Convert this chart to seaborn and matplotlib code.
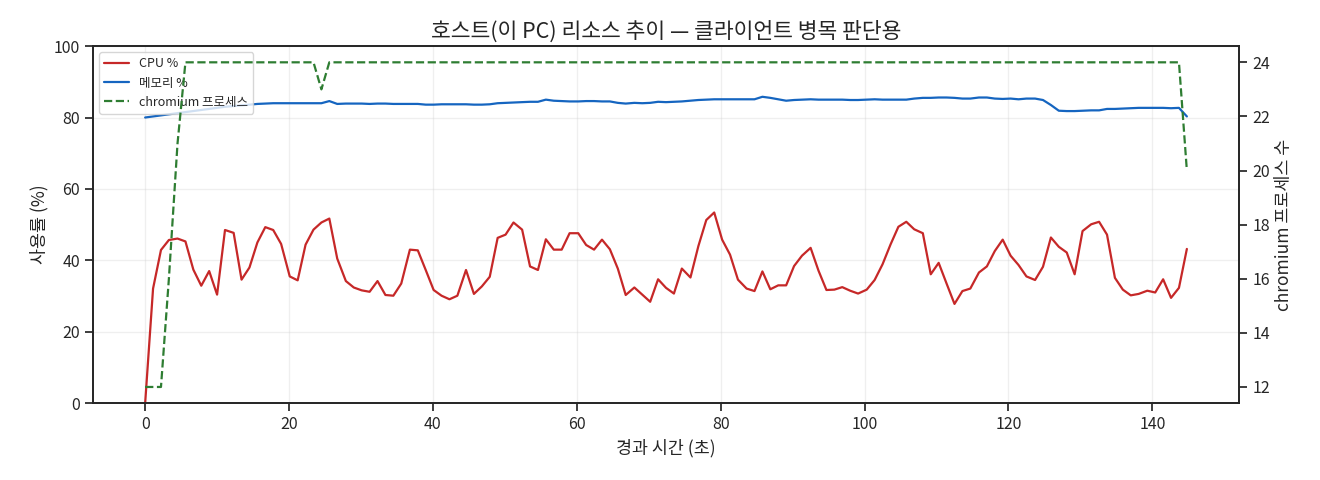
import seaborn as sns
import matplotlib.pyplot as plt
import pandas as pd

# elapsed seconds for each sample
elapsed_s = [
    0.0, 1.1, 2.2, 3.3, 4.5, 5.6, 6.7, 7.8, 8.9, 10.0,
    11.1, 12.3, 13.4, 14.5, 15.6, 16.7, 17.8, 18.9, 20.1, 21.2,
    22.3, 23.4, 24.5, 25.6, 26.7, 27.9, 29.0, 30.1, 31.2, 32.3,
    33.4, 34.5, 35.6, 36.8, 37.9, 39.0, 40.1, 41.2, 42.3, 43.4,
    44.6, 45.7, 46.8, 47.9, 49.0, 50.1, 51.2, 52.4, 53.5, 54.6,
    55.7, 56.8, 57.9, 59.0, 60.2, 61.3, 62.4, 63.5, 64.6, 65.7,
    66.8, 68.0, 69.1, 70.2, 71.3, 72.4, 73.5, 74.6, 75.8, 76.9,
    78.0, 79.1, 80.2, 81.3, 82.4, 83.6, 84.7, 85.8, 86.9, 88.0,
    89.1, 90.2, 91.3, 92.5, 93.6, 94.7, 95.8, 96.9, 98.0, 99.1,
    100.3, 101.4, 102.5, 103.6, 104.7, 105.8, 106.9, 108.1, 109.2, 110.3,
    111.4, 112.5, 113.6, 114.7, 115.9, 117.0, 118.1, 119.2, 120.3, 121.4,
    122.5, 123.7, 124.8, 125.9, 127.0, 128.1, 129.2, 130.3, 131.5, 132.6,
    133.7, 134.8, 135.9, 137.0, 138.1, 139.3, 140.4, 141.5, 142.6, 143.7,
    144.8,
]

cpu_pct = [
    0.0, 32.1, 42.9, 45.7, 46.1, 45.3, 37.4, 32.9, 37.0, 30.4,
    48.5, 47.7, 34.6, 38.0, 45.0, 49.3, 48.5, 44.6, 35.5, 34.4,
    44.4, 48.6, 50.6, 51.7, 40.5, 34.2, 32.4, 31.6, 31.2, 34.2,
    30.3, 30.1, 33.5, 43.0, 42.8, 37.3, 31.7, 30.1, 29.1, 30.1,
    37.3, 30.6, 32.7, 35.4, 46.3, 47.2, 50.6, 48.6, 38.3, 37.3,
    45.9, 43.0, 43.0, 47.6, 47.6, 44.3, 43.0, 45.8, 43.1, 37.7,
    30.3, 32.4, 30.4, 28.4, 34.7, 32.3, 30.7, 37.7, 35.2, 44.0,
    51.3, 53.4, 45.8, 41.6, 34.6, 32.1, 31.4, 36.9, 31.9, 33.0,
    33.0, 38.4, 41.3, 43.5, 37.1, 31.7, 31.8, 32.5, 31.5, 30.7,
    31.8, 34.5, 38.9, 44.4, 49.4, 50.8, 48.7, 47.6, 36.1, 39.3,
    33.5, 27.8, 31.4, 32.1, 36.6, 38.3, 42.6, 45.8, 41.3, 38.7,
    35.5, 34.5, 38.2, 46.4, 43.8, 42.2, 36.1, 48.2, 50.1, 50.8,
    47.2, 35.1, 31.8, 30.2, 30.6, 31.5, 31.0, 34.7, 29.5, 32.3,
    43.2,
]

mem_pct = [
    80.0, 80.3, 80.6, 80.9, 81.2, 81.5, 81.8, 82.1, 82.4, 82.7,
    83.0, 83.2, 83.4, 83.6, 83.8, 83.9, 84.0, 84.0, 84.0, 84.0,
    84.0, 84.0, 84.0, 84.6, 83.8, 83.9, 83.9, 83.9, 83.8, 83.9,
    83.9, 83.8, 83.8, 83.8, 83.8, 83.6, 83.6, 83.7, 83.7, 83.7,
    83.7, 83.6, 83.6, 83.7, 84.0, 84.1, 84.2, 84.3, 84.4, 84.4,
    85.0, 84.7, 84.6, 84.5, 84.5, 84.6, 84.6, 84.5, 84.5, 84.1,
    83.9, 84.1, 84.0, 84.1, 84.4, 84.3, 84.4, 84.5, 84.7, 84.9,
    85.0, 85.1, 85.1, 85.1, 85.1, 85.1, 85.1, 85.8, 85.5, 85.1,
    84.7, 84.9, 85.0, 85.1, 85.0, 85.0, 85.0, 85.0, 84.9, 84.9,
    85.0, 85.1, 85.0, 85.0, 85.0, 85.0, 85.3, 85.5, 85.5, 85.6,
    85.6, 85.5, 85.3, 85.3, 85.6, 85.6, 85.3, 85.2, 85.3, 85.1,
    85.3, 85.3, 84.9, 83.5, 81.9, 81.8, 81.8, 81.9, 82.0, 82.0,
    82.4, 82.4, 82.5, 82.6, 82.7, 82.7, 82.7, 82.7, 82.6, 82.7,
    80.3,
]

chromium_procs = [12, 12, 12, 16, 21] + [24] * 17 + [23] + [24] * 107 + [20]

df = pd.DataFrame({
    "t": elapsed_s,
    "cpu": cpu_pct,
    "mem": mem_pct,
    "chromium": chromium_procs,
})

sns.set_theme(style="ticks")
plt.rcParams['font.family'] = ['Noto Sans CJK KR', 'DejaVu Sans']
plt.rcParams['axes.unicode_minus'] = False

fig, ax1 = plt.subplots(figsize=(13.2, 4.8), dpi=100)
fig.subplots_adjust(left=0.0705, right=0.9386, top=0.904, bottom=0.16)

sns.lineplot(data=df, x="t", y="cpu", ax=ax1, color="#c62828", linewidth=1.6, label="CPU %")
sns.lineplot(data=df, x="t", y="mem", ax=ax1, color="#1565c0", linewidth=1.6, label="메모리 %")
ax1.set_ylim(0, 100)
ax1.set_xlabel("경과 시간 (초)", fontsize=12.5)
ax1.set_ylabel("사용률 (%)", fontsize=12.5)
ax1.grid(True, alpha=0.3)
ax1.tick_params(labelsize=11.5)

ax2 = ax1.twinx()
sns.lineplot(data=df, x="t", y="chromium", ax=ax2, color="#2e7d32", linewidth=1.6,
             linestyle="--", label="chromium 프로세스")
ax2.set_ylabel("chromium 프로세스 수", fontsize=12.5)
ax2.set_yticks([12, 14, 16, 18, 20, 22, 24])
ax2.tick_params(labelsize=11.5)
if ax2.get_legend() is not None:
    ax2.get_legend().remove()

h1, l1 = ax1.get_legend_handles_labels()
h2, l2 = ax2.get_legend_handles_labels()
ax1.legend(h1 + h2, l1 + l2, loc="upper left", fontsize=9)

ax1.set_title("호스트(이 PC) 리소스 추이 — 클라이언트 병목 판단용", fontsize=15.5)

plt.savefig("out.png", dpi=100)
